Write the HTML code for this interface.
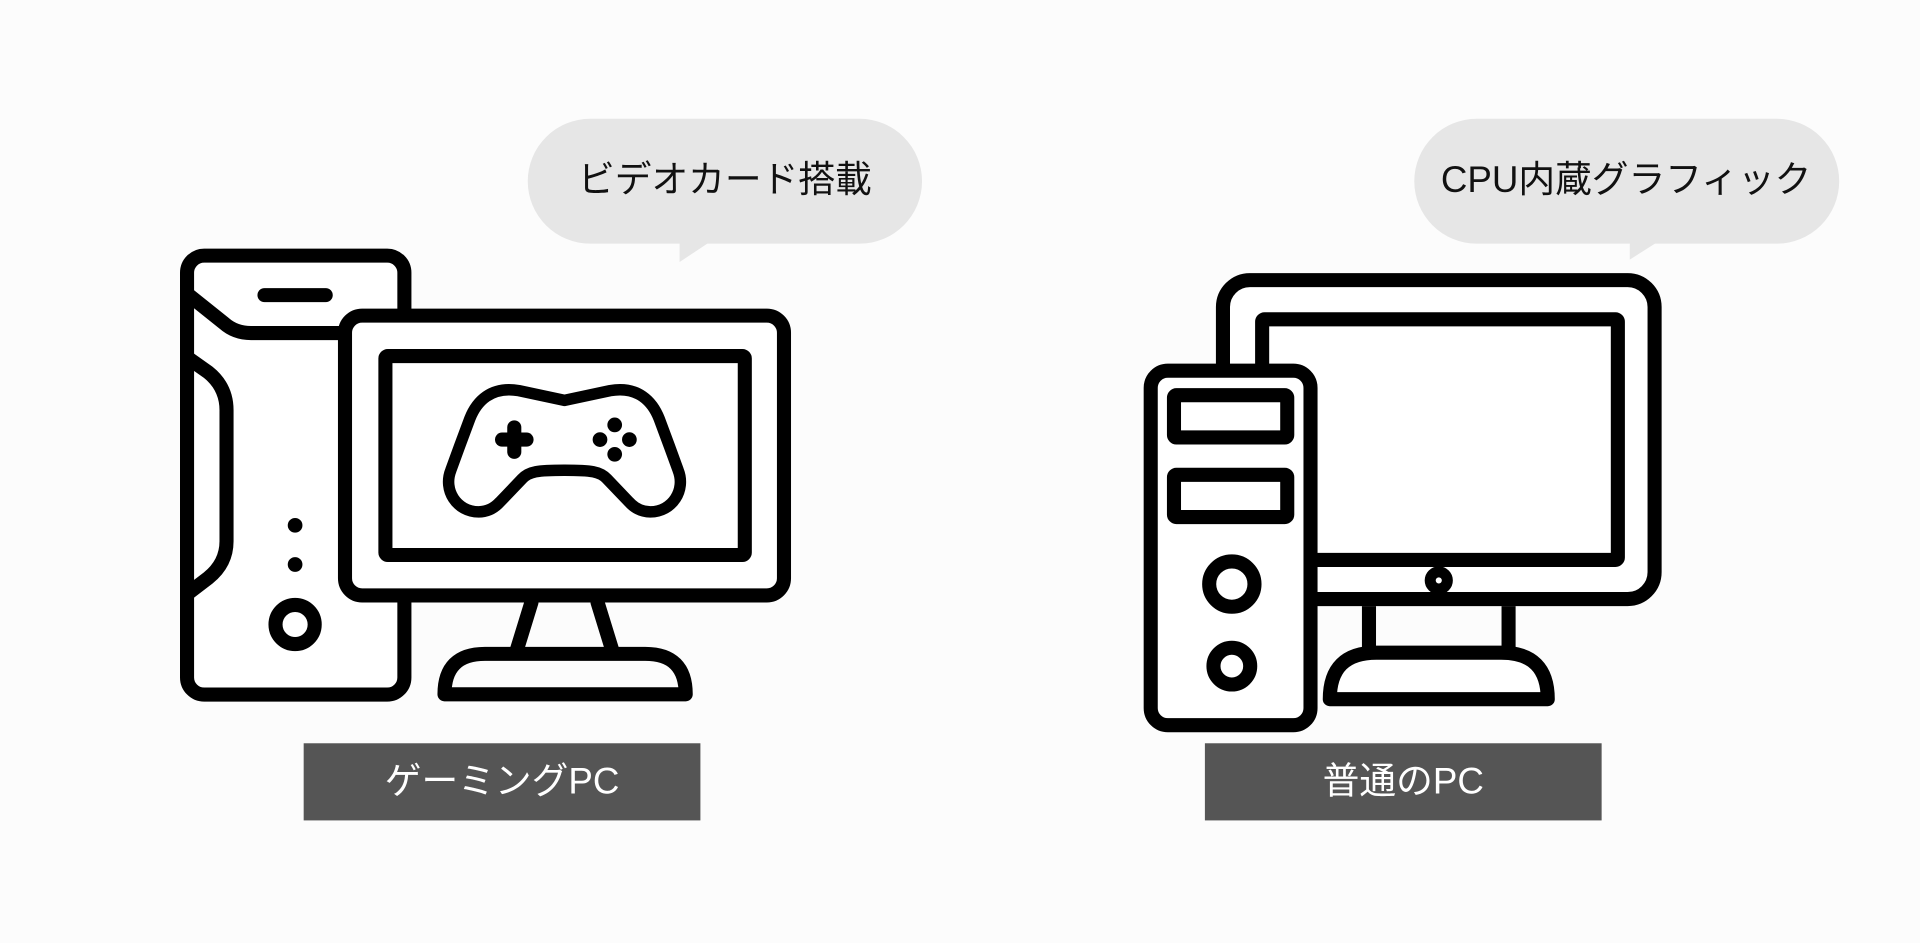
<!DOCTYPE html>
<html><head><meta charset="utf-8"><style>
html,body{margin:0;padding:0;background:#fcfcfc;}
svg{display:block}
text{font-family:"Liberation Sans","Noto Sans CJK JP",sans-serif;}
</style></head><body>
<svg width="1920" height="943" viewBox="0 0 1568 770.1" xmlns="http://www.w3.org/2000/svg">
<rect width="1568" height="771" fill="#fcfcfc"/>
<!-- bubbles -->
<rect x="431" y="97" width="322" height="102" rx="51" fill="#e6e6e6"/>
<polygon points="555,198 579,198 555,214" fill="#e6e6e6"/>
<text x="592" y="157" font-size="30" text-anchor="middle" fill="#111">ビデオカード搭載</text>
<rect x="1155" y="97" width="347" height="102" rx="51" fill="#e6e6e6"/>
<polygon points="1331,198 1353,198 1331,212" fill="#e6e6e6"/>
<text x="1328" y="157" font-size="30" text-anchor="middle" fill="#111">CPU内蔵グラフィック</text>

<g fill="none" stroke="#000" stroke-width="11.5" stroke-linecap="round" stroke-linejoin="round">
<!-- gaming tower -->
<rect x="152.75" y="208.75" width="177.5" height="358.5" rx="14" fill="#fff"/>
<line x1="216" y1="241" x2="266" y2="241"/>
<path d="M153 240 L183 264 Q192 272 205 272 L282 272" stroke-linecap="butt"/>
<path d="M153 292 L170 304 Q185 316 185 335 L185 442 Q185 460 170 472 L153 485" stroke-linecap="butt"/>
<circle cx="241" cy="510" r="16"/>
<!-- gaming monitor -->
<rect x="281.75" y="257.75" width="358.5" height="228.5" rx="14" fill="#fff"/>
<rect x="314.75" y="290.75" width="293.5" height="162.5" rx="2"/>
<line x1="434" y1="492" x2="422" y2="531"/>
<line x1="488" y1="492" x2="500" y2="531"/>
<path d="M363 567 L560 567 Q560 534 527 534 L396 534 Q363 534 363 567 Z"/>
<g transform="translate(461,0) scale(0.91,1) translate(-461,0)">
<path vector-effect="non-scaling-stroke" d="M461 327 L420 319 C395 315 382 328 376 342 L367 364 L359 384 C352 400 364 418 384 418 C392 418 398 415 403 410 L423 391 C429 385 437 384 461 384 C485 384 493 385 499 391 L519 410 C524 415 530 418 538 418 C558 418 570 400 563 384 L555 364 L546 342 C540 328 527 315 502 319 Z"/>
</g>
<line x1="420" y1="349" x2="420" y2="369"/>
<line x1="410" y1="359" x2="430" y2="359"/>
</g>
<g fill="#000">
<circle cx="241" cy="429" r="6"/>
<circle cx="241" cy="461" r="6"/>
<circle cx="502" cy="347" r="6"/>
<circle cx="502" cy="371" r="6"/>
<circle cx="490" cy="359" r="6"/>
<circle cx="514" cy="359" r="6"/>
</g>

<g fill="none" stroke="#000" stroke-width="11.5" stroke-linecap="round" stroke-linejoin="round">
<!-- normal monitor -->
<rect x="998.75" y="228.75" width="352.5" height="260.5" rx="22" fill="#fff"/>
<rect x="1030.75" y="260.75" width="290.5" height="196.5" rx="2"/>
<circle cx="1175" cy="474" r="7" fill="#fff" stroke-width="9"/>
<line x1="1118" y1="495" x2="1118" y2="530" stroke-linecap="butt"/>
<line x1="1232" y1="495" x2="1232" y2="530" stroke-linecap="butt"/>
<path d="M1086 571 L1264 571 Q1264 533 1226 533 L1124 533 Q1086 533 1086 571 Z" fill="#fff"/>
<!-- normal tower -->
<rect x="939.75" y="302.75" width="130.5" height="289.5" rx="14" fill="#fff"/>
<rect x="958.75" y="322.75" width="92.5" height="34.5" rx="2"/>
<rect x="958.75" y="387.75" width="92.5" height="34.5" rx="2"/>
<circle cx="1006" cy="477" r="18.5"/>
<circle cx="1006" cy="544" r="15"/>
</g>

<!-- labels -->
<rect x="248" y="607" width="324" height="63" fill="#555"/>
<text x="410" y="648" font-size="30" text-anchor="middle" fill="#fff">ゲーミングPC</text>
<rect x="984" y="607" width="324" height="63" fill="#555"/>
<text x="1146" y="648" font-size="30" text-anchor="middle" fill="#fff">普通のPC</text>
</svg>
</body></html>
